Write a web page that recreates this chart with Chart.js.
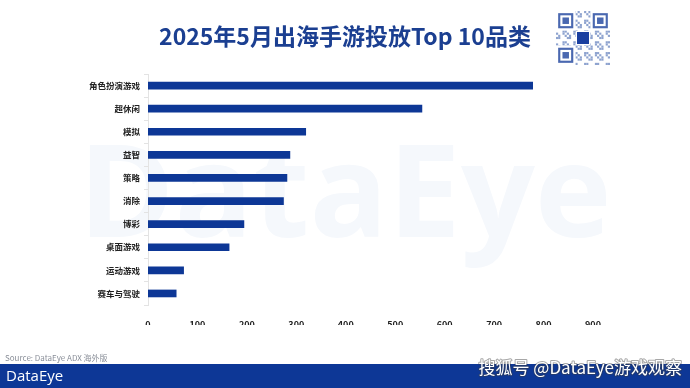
<!DOCTYPE html>
<html>
<head>
<meta charset="utf-8">
<script src="https://cdn.jsdelivr.net/npm/chart.js@4"></script>
<style>
  html, body { margin: 0; padding: 0; background: #fff; }
  #wrap { width: 690px; height: 388px; position: relative; }
</style>
</head>
<body>
<div id="wrap"><canvas id="topChart" width="690" height="388"></canvas></div>
<script>
// 品类与投放数值（读图估算）
const categories = ['角色扮演游戏', '超休闲', '模拟', '益智', '策略', '消除', '博彩', '桌面游戏', '运动游戏', '赛车与驾驶'];
const values = [778, 554, 319, 287, 281, 274, 194, 164, 72, 57];
const xTicks = [0, 100, 200, 300, 400, 500, 600, 700, 800, 900];

const titleText = '2025年5月出海手游投放Top 10品类';
const sourceText = 'Source: DataEye ADX 海外版';
const FONT = '"Noto Sans CJK SC", "Noto Sans", sans-serif';
const BLUE = '#0d3796';

// 背景水印、标题、二维码、页脚
const decor = {
    id: 'decor',
    beforeDraw(chart) {
        const ctx = chart.ctx;
        ctx.save();
        ctx.fillStyle = '#fff';
        ctx.fillRect(0, 0, chart.width, chart.height);

        // 大水印
        ctx.fillStyle = '#f5f8fc';
        ctx.font = 'bold 130px "Open Sans", sans-serif';
        ctx.textBaseline = 'middle';
        ctx.textAlign = 'center';
        ctx.fillText('DataEye', 345, 200);

        // 标题
        ctx.fillStyle = '#1b3f91';
        ctx.font = 'bold 23px ' + FONT;
        ctx.fillText(titleText, 345, 36);

        // 二维码（示意）
        drawQR(ctx, 556, 11, 54);

        // 来源
        ctx.textAlign = 'left';
        ctx.fillStyle = '#8a8f99';
        ctx.font = '8px ' + FONT;
        ctx.fillText(sourceText, 5, 358);

        // 页脚条
        ctx.fillStyle = BLUE;
        ctx.fillRect(0, 364, chart.width, 24);
        ctx.fillStyle = '#fff';
        ctx.font = '15px "Open Sans", sans-serif';
        ctx.fillText('DataEye', 6, 377);

        // 平台水印文字
        ctx.textAlign = 'right';
        ctx.font = '17px ' + FONT;
        ctx.strokeStyle = 'rgba(60,60,60,0.45)';
        ctx.lineWidth = 2;
        ctx.lineJoin = 'round';
        ctx.strokeText('搜狐号 @DataEye游戏观察', 682, 368);
        ctx.fillStyle = '#fff';
        ctx.fillText('搜狐号 @DataEye游戏观察', 682, 368);
        ctx.restore();
    }
};

function drawQR(ctx, x, y, s) {
    const n = 25, c = s / n;
    ctx.fillStyle = '#fff';
    ctx.fillRect(x, y, s, s);
    ctx.fillStyle = '#8ea3cf';
    for (let i = 0; i < n; i++) {
        for (let j = 0; j < n; j++) {
            if (((i * 7 + j * 13 + i * j) % 5) < 2) ctx.fillRect(x + i * c, y + j * c, c, c);
        }
    }
    const finder = (fx, fy) => {
        ctx.fillStyle = '#fff';
        ctx.fillRect(fx - c, fy - c, 9 * c, 9 * c);
        ctx.fillStyle = '#4a68b0';
        ctx.fillRect(fx, fy, 7 * c, 7 * c);
        ctx.fillStyle = '#fff';
        ctx.fillRect(fx + c, fy + c, 5 * c, 5 * c);
        ctx.fillStyle = '#4a68b0';
        ctx.fillRect(fx + 2 * c, fy + 2 * c, 3 * c, 3 * c);
    };
    finder(x + c, y + c);
    finder(x + s - 8 * c, y + c);
    finder(x + c, y + s - 8 * c);
    ctx.fillStyle = '#fff';
    ctx.fillRect(x + s / 2 - 7, y + s / 2 - 7, 14, 14);
    ctx.fillStyle = '#1a3fa0';
    ctx.fillRect(x + s / 2 - 6, y + s / 2 - 6, 12, 12);
}

new Chart(document.getElementById('topChart'), {
    type: 'bar',
    data: {
        labels: categories,
        datasets: [{
            data: values,
            backgroundColor: BLUE,
            barThickness: 7,
            borderWidth: 0
        }]
    },
    options: {
        indexAxis: 'y',
        responsive: false,
        animation: false,
        devicePixelRatio: 1,
        layout: { padding: { top: 74, right: 97, bottom: 63, left: 0 } },
        plugins: { legend: { display: false }, tooltip: { enabled: false } },
        scales: {
            x: {
                min: 0,
                max: 900,
                afterBuildTicks(axis) { axis.ticks = xTicks.map(v => ({ value: v })); },
                afterFit(axis) { axis.height = 20; },
                grid: { display: false },
                border: { display: false },
                ticks: { color: '#222', padding: 6, font: { size: 9, weight: 'bold', family: FONT } }
            },
            y: {
                afterFit(axis) { axis.width = 148; },
                grid: { drawOnChartArea: false, color: '#e3e3e3', tickLength: 4, offset: true },
                border: { color: '#e3e3e3' },
                ticks: { color: '#222', padding: 4, font: { size: 8.5, weight: 'bold', family: FONT } }
            }
        }
    },
    plugins: [decor]
});
</script>
</body>
</html>
